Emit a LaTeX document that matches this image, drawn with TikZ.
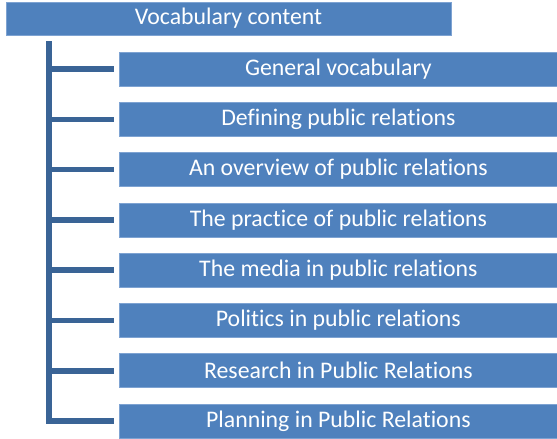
\documentclass[tikz,border=0pt]{standalone}
\usepackage{fontspec}
\setmainfont[Ligatures=NoCommon]{Carlito}
\definecolor{boxblue}{RGB}{79,129,189}
\definecolor{boxedge}{RGB}{126,163,210}
\definecolor{linkblue}{RGB}{58,100,150}
\tikzset{
	titlebox/.style={draw=boxedge, line width=.8pt, fill=boxblue, text=white, minimum width=445pt, minimum height=33pt, inner sep=0pt},
	itembox/.style={draw=boxedge, line width=.8pt, fill=boxblue, text=white, minimum width=439pt, minimum height=34pt, inner sep=0pt, anchor=west},
	link/.style={draw=linkblue, line width=5.5pt, line join=miter}
}
\begin{document}
\begin{tikzpicture}[x=1pt, y=-1pt, font=\fontsize{23.8}{26}\selectfont]
	\useasboundingbox (0,0) rectangle (557,439);
	\node[titlebox] (top) at (228.5,18.5) {Vocabulary content};
	\coordinate (trunk) at (49,41);
	\foreach \t [count=\i] in {General vocabulary, Defining public relations, An overview of public relations, The practice of public relations, The media in public relations, Politics in public relations, Research in Public Relations, Planning in Public Relations}
		\node[itembox] (item\i) at (118.5,{69+50.3*(\i-1)}) {\t};
	% trunk and branches
	\draw[link] (trunk) |- ([xshift=-5pt]item8.west);
	\foreach \i in {1,...,7}
		\draw[link] (trunk |- item\i.west) -- ([xshift=-5pt]item\i.west);
\end{tikzpicture}
\end{document}
